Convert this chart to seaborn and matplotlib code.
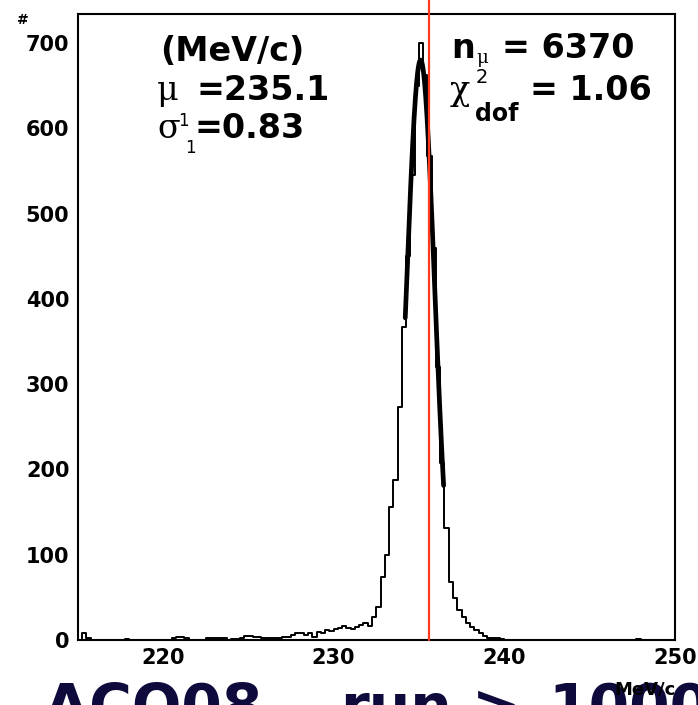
import numpy as np
import pandas as pd
import matplotlib
matplotlib.use("Agg")
import matplotlib.pyplot as plt
from matplotlib.ticker import MultipleLocator
import seaborn as sns

# ---------------- data ----------------
x_min, x_max = 215.0, 250.0
bin_width = 0.25
y_max = 734

bin_left = [215.25, 215.5, 217.75, 220.5, 220.75, 221.0, 221.25, 222.5, 222.75, 223.0,
            223.25, 223.5, 224.0, 224.25, 224.5, 224.75, 225.0, 225.25, 225.5, 225.75,
            226.0, 226.25, 226.5, 226.75, 227.0, 227.25, 227.5, 227.75, 228.0, 228.25,
            228.5, 228.75, 229.0, 229.25, 229.5, 229.75, 230.0, 230.25, 230.5, 230.75,
            231.0, 231.25, 231.5, 231.75, 232.0, 232.25, 232.5, 232.75, 233.0, 233.25,
            233.5, 233.75, 234.0, 234.25, 234.5, 234.75, 235.0, 235.25, 235.5, 235.75,
            236.0, 236.25, 236.5, 236.75, 237.0, 237.25, 237.5, 237.75, 238.0, 238.25,
            238.5, 238.75, 239.0, 239.25, 239.5, 239.75, 247.75]
counts = [8, 2, 1, 2, 3, 3, 2, 2, 2, 2,
          2, 2, 1, 1, 2, 5, 5, 3, 3, 2,
          2, 2, 2, 2, 4, 4, 6, 8, 8, 6,
          8, 4, 9, 8, 12, 10, 13, 14, 16, 14,
          13, 15, 18, 20, 17, 27, 39, 74, 100, 156,
          188, 273, 367, 450, 545, 650, 700, 662, 567, 460,
          320, 207, 131, 68, 49, 35, 27, 20, 15, 12,
          8, 5, 2, 2, 2, 1, 1]

# Gaussian fit (from the stats box)
fit_mu, fit_sigma, fit_amp = 235.1, 0.83, 680.0
fit_lo, fit_hi = 234.2, 236.45
ref_line = 235.6

x_ticks = [220, 230, 240, 250]
y_ticks = [0, 100, 200, 300, 400, 500, 600, 700]

# ---------------- figure ----------------
W, H = 698, 705
sns.set_style("white")
plt.rcParams["font.family"] = ["DejaVu Sans"]

fig = plt.figure(figsize=(W / 100, H / 100), dpi=100)
ax = fig.add_axes([77.8 / W, 1 - 640 / H, (674.7 - 77.8) / W, (640 - 14) / H])

edges = [float(e) for e in np.arange(x_min, x_max + bin_width / 2, bin_width)]
df = pd.DataFrame({"p": np.array(bin_left) + bin_width / 2, "n": counts})
sns.histplot(data=df, x="p", weights="n", bins=edges, element="step", fill=False,
             color="black", linewidth=1.4, ax=ax)

xf = np.linspace(fit_lo, fit_hi, 300)
yf = fit_amp * np.exp(-0.5 * ((xf - fit_mu) / fit_sigma) ** 2)
sns.lineplot(x=xf, y=yf, color="black", linewidth=3.4, ax=ax)

ax.axvline(ref_line, ymin=0, ymax=640 / 626, color="#ff3b1f", lw=1.6,
           clip_on=False, zorder=6)

ax.set_xlim(x_min, x_max)
ax.set_ylim(0, y_max)
ax.set_xticks(x_ticks)
ax.set_yticks(y_ticks)
ax.xaxis.set_minor_locator(MultipleLocator(2))
ax.yaxis.set_minor_locator(MultipleLocator(20))
ax.tick_params(which="both", direction="in", top=False, right=False, width=1.5,
               labelsize=15, pad=6, colors="black")
ax.tick_params(which="major", length=12.2)
ax.tick_params(which="minor", length=7.2)
for lab in ax.get_xticklabels() + ax.get_yticklabels():
    lab.set_fontweight("bold")
ax.set_xlabel("")
ax.set_ylabel("")
for s in ax.spines.values():
    s.set_visible(True)
    s.set_color("black")
    s.set_linewidth(1.5)


def T(x, y, s, size, weight="bold", family="DejaVu Sans", color="black", ha="left", z=3):
    fig.text(x / W, 1 - y / H, s, fontsize=size, fontweight=weight, family=family,
             color=color, ha=ha, va="baseline", zorder=z)


# stats text left
T(160, 61, "(MeV/c)", 24)
T(157, 100, "\u03bc", 24, weight="normal", family="DejaVu Serif")
T(197, 100, "=235.1", 24)
T(157, 138, "\u03c3", 24, weight="normal", family="DejaVu Serif")
T(178, 126, "1", 12, weight="normal")
T(185, 153, "1", 12, weight="normal")
T(195, 138, "=0.83", 24)
# stats text right
T(451, 58, "n", 24)
T(476, 63, "\u03bc", 13, weight="normal", family="DejaVu Serif")
T(502, 58, "= 6370", 24)
T(450, 100, "\u03c7", 24, weight="normal", family="DejaVu Serif")
T(476, 83, "2", 14, weight="normal")
T(475, 121, "dof", 17)
T(530, 100, "= 1.06", 24)

# slide title (cut off at the bottom)
navy = "#0e0a3c"
T(44, 726, "ACO08 \u2013", 42, color=navy, z=2)
T(340, 726, "run", 42, color=navy, z=2)
T(472, 726, ">", 42, color=navy, z=2)
T(548, 726, "10000", 42, color=navy, z=2)

# axis titles
T(17, 24, "#", 10)
T(676, 695, "MeV/c", 13, ha="right", z=5)

fig.savefig("out.png", dpi=100)
